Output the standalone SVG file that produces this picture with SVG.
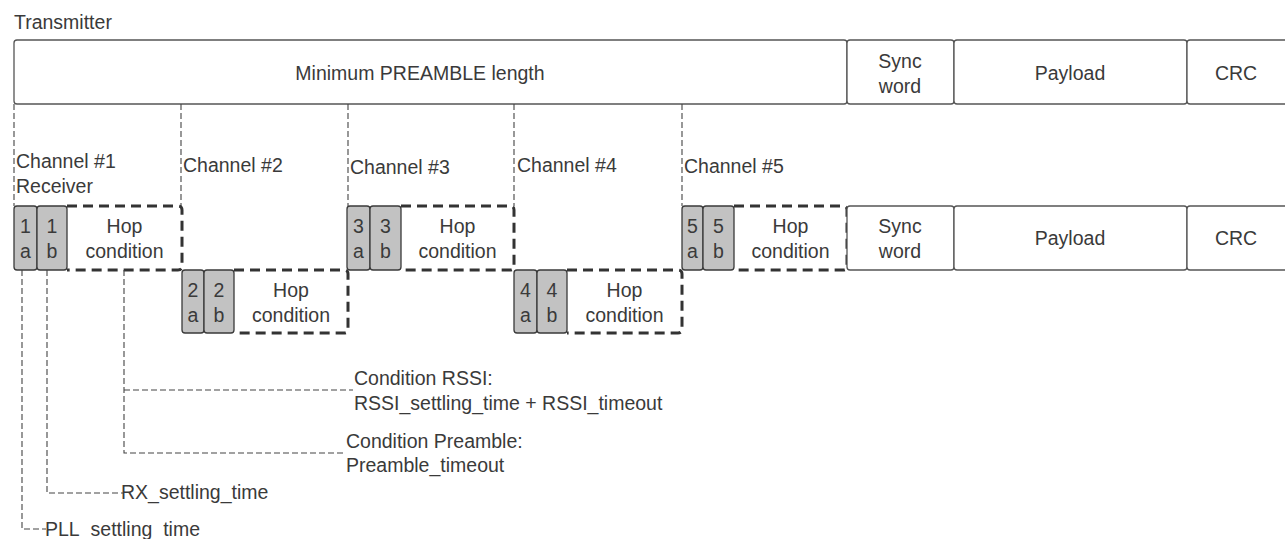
<svg xmlns="http://www.w3.org/2000/svg" width="1285" height="539" viewBox="0 0 1285 539">
<style>
text{font-family:"Liberation Sans",Arial,sans-serif;font-size:19.5px;fill:#3a3a3a}
.c{text-anchor:middle}
.box{fill:#fff;stroke:#555;stroke-width:1.3}
.g{fill:#c2c2c2;stroke:#3a3a3a;stroke-width:1.3}
.hop{fill:none;stroke:#333;stroke-width:3;stroke-dasharray:10 6}
.thin{fill:none;stroke:#444;stroke-width:1.1;stroke-dasharray:6 3}
</style>
<rect width="1285" height="539" fill="#fff"/>
<text x="14" y="29">Transmitter</text>

<g id="tx-preamble"><rect class="box" x="14" y="40" width="833" height="64" rx="3"/><text x="420" y="80" class="c">Minimum PREAMBLE length</text></g>
<g id="tx-sync"><rect class="box" x="847" y="40" width="107" height="64" rx="3"/><text x="900" y="68" class="c">Sync</text><text x="900" y="93" class="c">word</text></g>
<g id="tx-payload"><rect class="box" x="954" y="40" width="233" height="64" rx="3"/><text x="1070" y="80" class="c">Payload</text></g>
<g id="tx-crc"><rect class="box" x="1187" y="40" width="110" height="64" rx="3"/><text x="1236" y="80" class="c">CRC</text></g>

<g id="dividers">
<path class="thin" d="M14,104V206M181,104V206M348,104V206M514,104V206M682,104V206"/>
</g>

<text x="16" y="168">Channel #1</text>
<text x="16" y="193">Receiver</text>
<text x="183" y="172">Channel #2</text>
<text x="350" y="174">Channel #3</text>
<text x="517" y="172">Channel #4</text>
<text x="684" y="173">Channel #5</text>

<g id="ch1">
<path class="hop" d="M67,206H178Q182,206 182,210V266Q182,270 178,270H67"/>
<rect class="g" x="14" y="206" width="23" height="64" rx="3"/>
<rect class="g" x="37" y="206" width="30" height="64" rx="3"/>
<text x="25.5" y="233" class="c">1</text><text x="25.5" y="258" class="c">a</text>
<text x="52" y="233" class="c">1</text><text x="52" y="258" class="c">b</text>
<text x="124.5" y="233" class="c">Hop</text><text x="124.5" y="258" class="c">condition</text>
</g>
<g id="ch2">
<path class="hop" d="M234,270H344Q348,270 348,274V329Q348,333 344,333H234"/>
<rect class="g" x="182" y="270" width="22" height="63" rx="3"/>
<rect class="g" x="204" y="270" width="30" height="63" rx="3"/>
<text x="193" y="297" class="c">2</text><text x="193" y="322" class="c">a</text>
<text x="219" y="297" class="c">2</text><text x="219" y="322" class="c">b</text>
<text x="291" y="297" class="c">Hop</text><text x="291" y="322" class="c">condition</text>
</g>
<g id="ch3">
<path class="hop" d="M401,206H510Q514,206 514,210V266Q514,270 510,270H401"/>
<rect class="g" x="347" y="206" width="23" height="64" rx="3"/>
<rect class="g" x="370" y="206" width="31" height="64" rx="3"/>
<text x="358.5" y="233" class="c">3</text><text x="358.5" y="258" class="c">a</text>
<text x="385.5" y="233" class="c">3</text><text x="385.5" y="258" class="c">b</text>
<text x="457.5" y="233" class="c">Hop</text><text x="457.5" y="258" class="c">condition</text>
</g>
<g id="ch4">
<path class="hop" d="M567,270H678Q682,270 682,274V329Q682,333 678,333H567"/>
<rect class="g" x="514" y="270" width="23" height="63" rx="3"/>
<rect class="g" x="537" y="270" width="30" height="63" rx="3"/>
<text x="525.5" y="297" class="c">4</text><text x="525.5" y="322" class="c">a</text>
<text x="552" y="297" class="c">4</text><text x="552" y="322" class="c">b</text>
<text x="624.5" y="297" class="c">Hop</text><text x="624.5" y="322" class="c">condition</text>
</g>
<g id="ch5">
<path class="hop" d="M734,206H843Q847,206 847,210V266Q847,270 843,270H734"/>
<rect class="g" x="682" y="206" width="21" height="64" rx="3"/>
<rect class="g" x="703" y="206" width="31" height="64" rx="3"/>
<text x="692.5" y="233" class="c">5</text><text x="692.5" y="258" class="c">a</text>
<text x="718.5" y="233" class="c">5</text><text x="718.5" y="258" class="c">b</text>
<text x="790.5" y="233" class="c">Hop</text><text x="790.5" y="258" class="c">condition</text>
</g>
<g id="rx-sync"><rect class="box" x="847" y="206" width="107" height="64" rx="3"/><text x="900" y="233" class="c">Sync</text><text x="900" y="258" class="c">word</text></g>
<g id="rx-payload"><rect class="box" x="954" y="206" width="233" height="64" rx="3"/><text x="1070" y="245" class="c">Payload</text></g>
<g id="rx-crc"><rect class="box" x="1187" y="206" width="110" height="64" rx="3"/><text x="1236" y="245" class="c">CRC</text></g>

<g id="connectors">
<path class="thin" d="M22,270V529H46"/>
<path class="thin" d="M47,270V493H123"/>
<path class="thin" d="M124,270V453H346"/>
<path class="thin" d="M124,390H353"/>
</g>

<g id="labels">
<text x="354" y="385">Condition RSSI:</text>
<text x="354" y="410">RSSI_settling_time + RSSI_timeout</text>
<text x="346" y="448">Condition Preamble:</text>
<text x="346" y="472">Preamble_timeout</text>
<text x="121" y="499">RX_settling_time</text>
<text x="45" y="536">PLL_settling_time</text>
</g>
</svg>
